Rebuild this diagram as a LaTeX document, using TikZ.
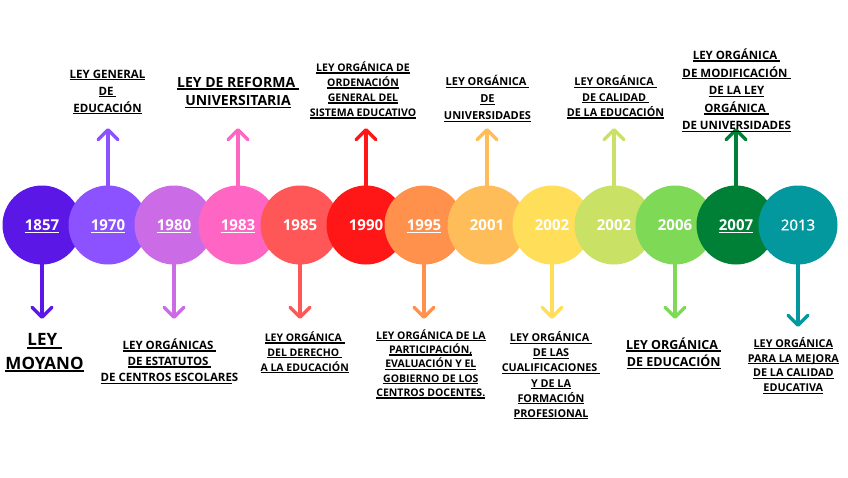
\documentclass[tikz,border=0pt]{standalone}
\usepackage{fontspec}
\setmainfont{Open Sans}
\newfontfamily\ossemi[FakeBold=1.2]{Open Sans}
\usetikzlibrary{arrows.meta}
\definecolor{c1857}{HTML}{5B17E6}
\definecolor{c1970}{HTML}{8C52FF}
\definecolor{c1980}{HTML}{CB6CE6}
\definecolor{c1983}{HTML}{FF66C4}
\definecolor{c1985}{HTML}{FF5757}
\definecolor{c1990}{HTML}{FF1616}
\definecolor{c1995}{HTML}{FF914D}
\definecolor{c2001}{HTML}{FFBD59}
\definecolor{c2002}{HTML}{FFDE59}
\definecolor{c2002b}{HTML}{C9E265}
\definecolor{c2006}{HTML}{7ED957}
\definecolor{c2007}{HTML}{008037}
\definecolor{c2013}{HTML}{03989E}
\newcommand\ulx[1]{\setbox0=\hbox{#1}\rlap{\smash{\rule[-0.2em]{\wd0}{0.12em}}}\box0}
\newcommand\lab[3]{\fontsize{#1}{#2}\selectfont\begin{tabular}[t]{@{}c@{}}#3\end{tabular}}
\begin{document}
\begin{tikzpicture}[x=1pt,y=-1pt,
  yr/.style={circle, minimum size=79pt, inner sep=0pt, text=white, font=\bfseries\fontsize{15}{15}\selectfont},
  lbl/.style={anchor=base, inner sep=0pt, font=\bfseries, text=black},
  arr/.style={line width=3.5pt, -{Straight Barb[length=10pt,width=20pt,round]}, line cap=round}]
\useasboundingbox[fill=white] (0,0) rectangle (848,477);
% circles
\node[yr, fill=c1857] (y1857) at (42,225) {\ulx{1857}};
\node[yr, fill=c1970] (y1970) at (108,225) {\ulx{1970}};
\node[yr, fill=c1980] (y1980) at (174,225) {\ulx{1980}};
\node[yr, fill=c1983] (y1983) at (238,225) {\ulx{1983}};
\node[yr, fill=c1985] (y1985) at (300,225) {1985};
\node[yr, fill=c1990] (y1990) at (366,225) {1990};
\node[yr, fill=c1995] (y1995) at (424,225) {\ulx{1995}};
\node[yr, fill=c2001] (y2001) at (487,225) {2001};
\node[yr, fill=c2002] (y2002) at (552,225) {2002};
\node[yr, fill=c2002b] (y2002b) at (614,225) {2002};
\node[yr, fill=c2006] (y2006) at (675,225) {2006};
\node[yr, fill=c2007] (y2007) at (736,225) {\ulx{2007}};
\node[yr, fill=c2013, font=\ossemi\fontsize{15}{15}\selectfont] (y2013) at (798,225) {2013};
% arrow ends
\coordinate (e1857) at (42,319);
\coordinate (e1970) at (108,128);
\coordinate (e1980) at (174,319);
\coordinate (e1983) at (238,128);
\coordinate (e1985) at (300,319);
\coordinate (e1990) at (366,128);
\coordinate (e1995) at (424,319);
\coordinate (e2001) at (487,128);
\coordinate (e2002) at (552,319);
\coordinate (e2002b) at (614,128);
\coordinate (e2006) at (675,319);
\coordinate (e2007) at (736,128);
\coordinate (e2013) at (798,327);
% arrows
\draw[arr, c1857] (y1857.south) -- (e1857);
\draw[arr, c1970] (y1970.north) -- (e1970);
\draw[arr, c1980] (y1980.south) -- (e1980);
\draw[arr, c1983] (y1983.north) -- (e1983);
\draw[arr, c1985] (y1985.south) -- (e1985);
\draw[arr, c1990] (y1990.north) -- (e1990);
\draw[arr, c1995] (y1995.south) -- (e1995);
\draw[arr, c2001] (y2001.north) -- (e2001);
\draw[arr, c2002] (y2002.south) -- (e2002);
\draw[arr, c2002b] (y2002b.north) -- (e2002b);
\draw[arr, c2006] (y2006.south) -- (e2006);
\draw[arr, c2007] (y2007.north) -- (e2007);
\draw[arr, c2013] (y2013.south) -- (e2013);
% labels top
\node[lbl] (l1970) at (107.5,78) {\lab{11.5}{17}{\ulx{LEY GENERAL}\\ \ulx{DE\ }\\ \ulx{EDUCACIÓN}}};
\node[lbl] (l1983) at (238,87) {\lab{14}{18.5}{\ulx{LEY DE REFORMA\ }\\ \ulx{UNIVERSITARIA}}};
\node[lbl] (l1990) at (363,71.5) {\lab{10.5}{15}{\ulx{LEY ORGÁNICA DE}\\ \ulx{ORDENACIÓN}\\ \ulx{GENERAL DEL}\\ \ulx{SISTEMA EDUCATIVO}}};
\node[lbl] (l2001) at (487.5,85.8) {\lab{11}{17}{\ulx{LEY ORGÁNICA\ }\\ \ulx{DE}\\ \ulx{UNIVERSIDADES}}};
\node[lbl] (l2002b) at (615.5,85.8) {\lab{10.8}{15.3}{\ulx{LEY ORGÁNICA\ }\\ \ulx{DE CALIDAD\ }\\ \ulx{DE LA EDUCACIÓN}}};
\node[lbl] (l2007) at (736.5,59.5) {\lab{11.5}{17.6}{\ulx{LEY ORGÁNICA\ }\\ \ulx{DE MODIFICACIÓN\ }\\ \ulx{DE LA LEY}\\ \ulx{ORGÁNICA\ }\\ \ulx{DE UNIVERSIDADES}}};
% labels bottom
\node[lbl] (l1857) at (44.5,345.5) {\lab{17}{23.5}{\ulx{LEY\ }\\ \ulx{MOYANO}}};
\node[lbl] (l1980) at (169.5,349.3) {\lab{11.5}{16.2}{\ulx{LEY ORGÁNICAS\ }\\ \ulx{DE ESTATUTOS\ }\\ \ulx{DE CENTROS ESCOLARE}S}};
\node[lbl] (l1985) at (304.7,341.5) {\lab{10.5}{14.75}{\ulx{LEY ORGÁNICA\ }\\ \ulx{DEL DERECHO\ }\\ \ulx{A LA EDUCACIÓN}}};
\node[lbl] (l1995) at (430.8,339) {\lab{10.5}{14.4}{\ulx{LEY ORGÁNICA DE LA}\\ \ulx{PARTICIPACIÓN,}\\ \ulx{EVALUACIÓN Y EL}\\ \ulx{GOBIERNO DE LOS}\\ \ulx{CENTROS DOCENTES.}}};
\node[lbl] (l2002) at (551,341.7) {\lab{10.8}{15.1}{\ulx{LEY ORGÁNICA\ }\\ \ulx{DE LAS}\\ \ulx{CUALIFICACIONES\ }\\ \ulx{Y DE LA}\\ \ulx{FORMACIÓN}\\ \ulx{PROFESIONAL}}};
\node[lbl] (l2006) at (673.7,349.3) {\lab{12.5}{17.4}{\ulx{LEY ORGÁNICA\ }\\ \ulx{DE EDUCACIÓN}}};
\node[lbl] (l2013) at (793.3,347.3) {\lab{10.8}{14.8}{\ulx{LEY ORGÁNICA}\\ \ulx{PARA LA MEJORA}\\ \ulx{DE LA CALIDAD}\\ \ulx{EDUCATIVA}}};
\end{tikzpicture}
\end{document}
